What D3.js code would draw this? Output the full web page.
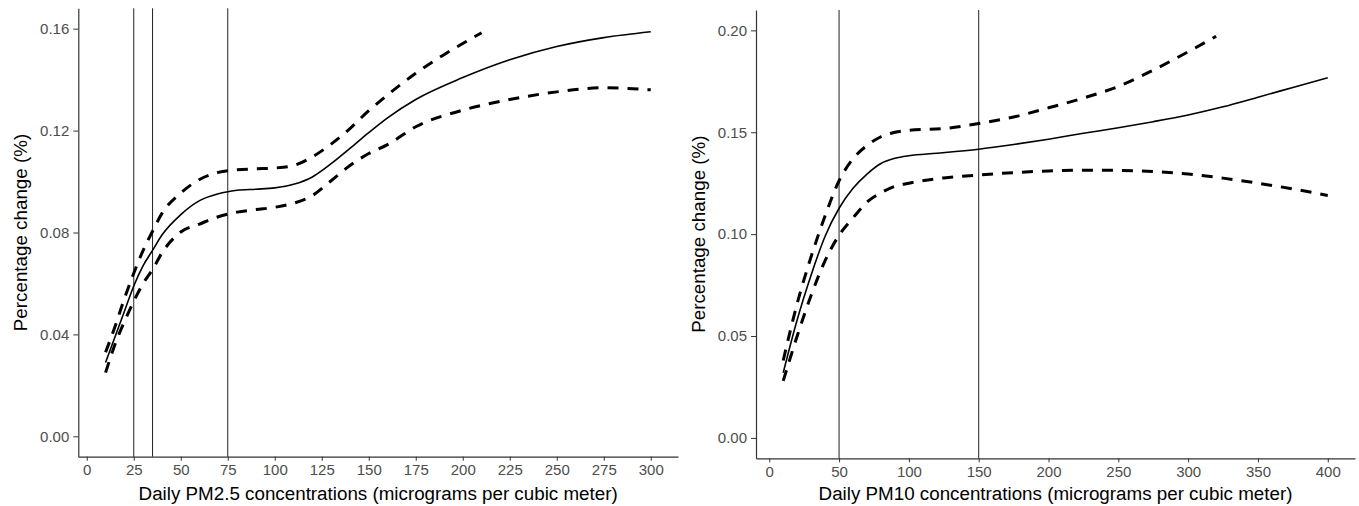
<!DOCTYPE html>
<html>
<head>
<meta charset="utf-8">
<script src="https://cdn.jsdelivr.net/npm/d3@7"></script>
<style>
  body { margin: 0; background: #fff; }
  svg { display: block; }
  .tick text { font-family: "Liberation Sans", Arial, sans-serif; font-size: 15px; fill: #4d4d4d; }
  .tick line { stroke: #333; }
  .domain { stroke: #333; }
  .title { font-family: "Liberation Sans", Arial, sans-serif; font-size: 18.8px; fill: #000; }
</style>
</head>
<body>
<svg id="chart" width="1359" height="506"></svg>
<script>
// PM2.5 panel
var pm25_x     = [10, 15, 20, 25, 30, 35, 40, 50, 60, 70, 75, 80, 90, 100, 110, 120, 130, 140, 150, 160, 175, 200, 225, 250, 275, 300];
var pm25_fit   = [0.029, 0.039, 0.049, 0.059, 0.067, 0.073, 0.079, 0.087, 0.0925, 0.0952, 0.0960, 0.0966, 0.0970, 0.0975, 0.0989, 0.1018, 0.107, 0.113, 0.1192, 0.125, 0.1322, 0.1408, 0.1478, 0.1530, 0.1565, 0.1588];
var pm25_lower = [0.025, 0.036, 0.045, 0.053, 0.060, 0.0655, 0.072, 0.0802, 0.0833, 0.0862, 0.0872, 0.0880, 0.0890, 0.0899, 0.0915, 0.0945, 0.1003, 0.1063, 0.1110, 0.1145, 0.1215, 0.1280, 0.1322, 0.1352, 0.1368, 0.1360];
var pm25_up_x  = [10, 15, 20, 25, 30, 35, 40, 50, 60, 70, 80, 90, 100, 110, 120, 130, 140, 150, 160, 175, 190, 200, 210];
var pm25_upper = [0.033, 0.043, 0.054, 0.064, 0.073, 0.0805, 0.0875, 0.0955, 0.1008, 0.1036, 0.1046, 0.1050, 0.1053, 0.1063, 0.1097, 0.1147, 0.1208, 0.1278, 0.1340, 0.1425, 0.1498, 0.1542, 0.1584];
var pm25_vlines = [25, 35, 75];
var pm25_xticks = [0, 25, 50, 75, 100, 125, 150, 175, 200, 225, 250, 275, 300];
var pm25_yticks = [0, 0.04, 0.08, 0.12, 0.16];

// PM10 panel
var pm10_x     = [10, 20, 30, 40, 50, 60, 70, 80, 90, 100, 120, 150, 175, 200, 225, 250, 275, 300, 325, 350, 375, 400];
var pm10_fit   = [0.032, 0.058, 0.080, 0.099, 0.1127, 0.1225, 0.1295, 0.1347, 0.1372, 0.1385, 0.1397, 0.1417, 0.1440, 0.1466, 0.1495, 0.1522, 0.1552, 0.1585, 0.1625, 0.1672, 0.1720, 0.1768];
var pm10_lo_x  = [10, 20, 30, 40, 50, 60, 70, 80, 90, 100, 125, 150, 175, 200, 225, 250, 275, 300, 325, 350, 375, 400];
var pm10_lower = [0.028, 0.050, 0.070, 0.087, 0.0995, 0.108, 0.1157, 0.1203, 0.1235, 0.1250, 0.1276, 0.1290, 0.1302, 0.1310, 0.1314, 0.1313, 0.1307, 0.1295, 0.1275, 0.1250, 0.1222, 0.1190];
var pm10_up_x  = [10, 20, 30, 40, 50, 60, 70, 80, 90, 100, 125, 150, 175, 200, 225, 250, 275, 300, 320];
var pm10_upper = [0.038, 0.066, 0.089, 0.109, 0.1262, 0.137, 0.1435, 0.1478, 0.1500, 0.1510, 0.1518, 0.1543, 0.1575, 0.1620, 0.1668, 0.1725, 0.1805, 0.1895, 0.1971];
var pm10_vlines = [50, 150];
var pm10_xticks = [0, 50, 100, 150, 200, 250, 300, 350, 400];
var pm10_yticks = [0, 0.05, 0.10, 0.15, 0.20];

var svg = d3.select("#chart");

function zip(xs, ys) {
    return xs.map(function(x, i) { return [x, ys[i]]; });
}

function drawPanel(p) {
    var x = d3.scaleLinear().domain(p.xDomain).range([p.left, p.right]);
    var y = d3.scaleLinear().domain(p.yDomain).range([p.bottom, p.top]);
    var g = svg.append("g");

    // reference lines
    g.selectAll("line.vline")
        .data(p.vlines)
        .enter()
        .append("line")
        .attr("class", "vline")
        .attr("x1", function(d) { return x(d); })
        .attr("x2", function(d) { return x(d); })
        .attr("y1", p.top)
        .attr("y2", p.bottom)
        .attr("stroke", "#222")
        .attr("stroke-width", 1);

    var line = d3.line()
        .x(function(d) { return x(d[0]); })
        .y(function(d) { return y(d[1]); })
        .curve(d3.curveMonotoneX);

    // confidence bounds
    [p.lower, p.upper].forEach(function(band) {
        g.append("path")
            .datum(band)
            .attr("d", line)
            .attr("fill", "none")
            .attr("stroke", "#000")
            .attr("stroke-width", 3)
            .attr("stroke-dasharray", "11,9");
    });

    // fitted curve
    g.append("path")
        .datum(p.fit)
        .attr("d", line)
        .attr("fill", "none")
        .attr("stroke", "#000")
        .attr("stroke-width", 1.6);

    // axes
    g.append("g")
        .attr("transform", "translate(0," + p.bottom + ")")
        .call(d3.axisBottom(x).tickValues(p.xticks).tickSize(4).tickSizeOuter(0).tickPadding(4));

    g.append("g")
        .attr("transform", "translate(" + p.left + ",0)")
        .call(d3.axisLeft(y).tickValues(p.yticks).tickSize(5).tickSizeOuter(0).tickPadding(4).tickFormat(d3.format(".2f")));

    g.selectAll(".domain").attr("stroke-width", 1.2);

    // titles
    g.append("text")
        .attr("class", "title")
        .attr("x", (p.left + p.right) / 2)
        .attr("y", 500)
        .attr("text-anchor", "middle")
        .text(p.xTitle);

    g.append("text")
        .attr("class", "title")
        .attr("transform", "translate(" + p.yTitleX + "," + (p.top + p.bottom) / 2 + ") rotate(-90)")
        .attr("text-anchor", "middle")
        .text("Percentage change (%)");
}

drawPanel({
    left: 78.3, right: 678, top: 8.3, bottom: 456.7,
    xDomain: [-4.5, 314.5], yDomain: [-0.008, 0.168],
    fit: zip(pm25_x, pm25_fit),
    lower: zip(pm25_x, pm25_lower),
    upper: zip(pm25_up_x, pm25_upper),
    vlines: pm25_vlines, xticks: pm25_xticks, yticks: pm25_yticks,
    xTitle: "Daily PM2.5 concentrations (micrograms per cubic meter)",
    yTitleX: 27
});

drawPanel({
    left: 756, right: 1355, top: 10, bottom: 458.3,
    xDomain: [-9.5, 419.5], yDomain: [-0.01, 0.21],
    fit: zip(pm10_x, pm10_fit),
    lower: zip(pm10_lo_x, pm10_lower),
    upper: zip(pm10_up_x, pm10_upper),
    vlines: pm10_vlines, xticks: pm10_xticks, yticks: pm10_yticks,
    xTitle: "Daily PM10 concentrations (micrograms per cubic meter)",
    yTitleX: 705
});
</script>
</body>
</html>
